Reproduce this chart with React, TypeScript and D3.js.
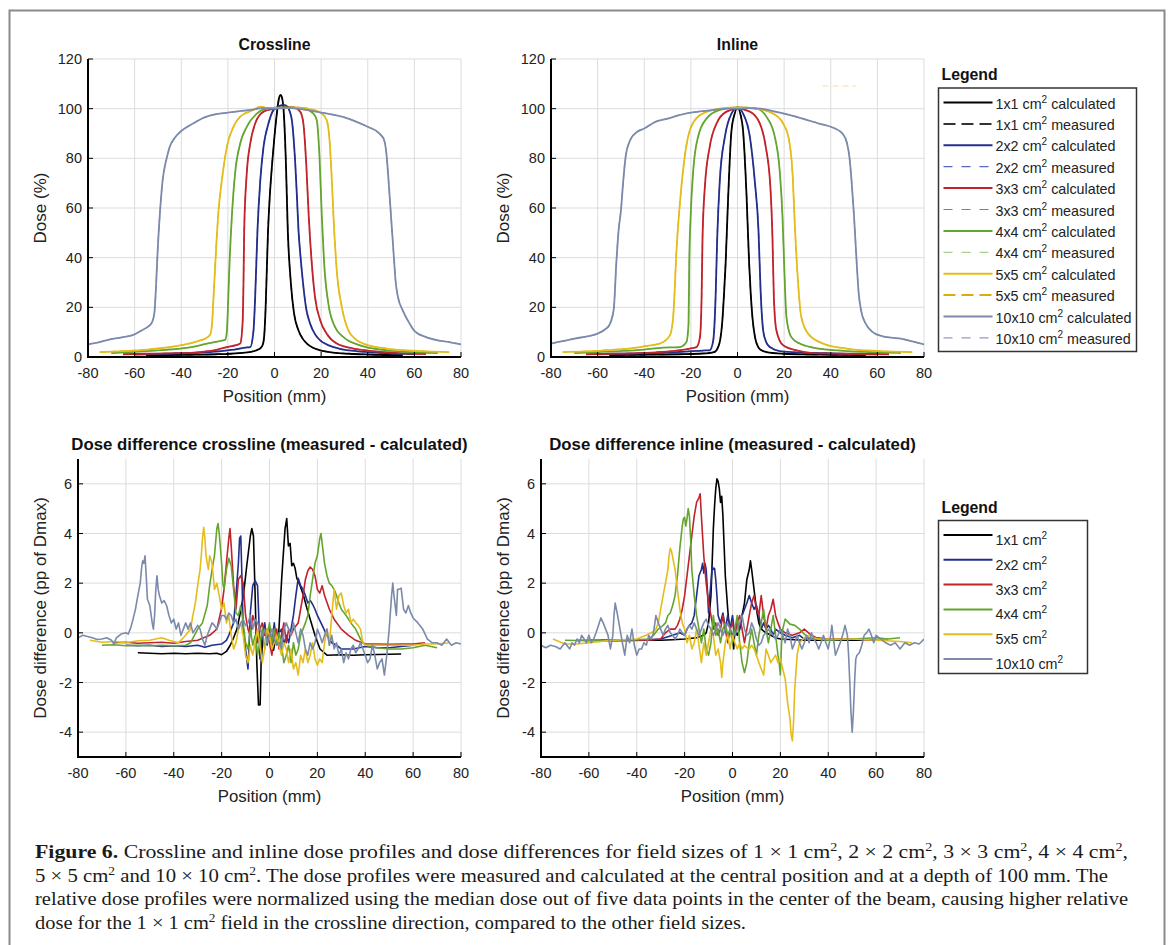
import React from 'react';
import * as d3 from 'd3';

type Pt = [number, number];

// ---------- Dose profiles: crossline (calculated) ----------
const cross1: Pt[] = [[-55,0.6],[-45,0.8],[-35,0.9],[-25,1.1],[-15,1.6],[-10,2.1],[-7,3],[-6,3.6],[-5,5],[-4.3,10],[-3.8,20],[-3.3,35],[-2.8,50],[-2,65],[-1,78],[0,89],[1,98],[2,104.5],[2.6,105.5],[3.2,104.5],[3.9,99.5],[4.9,78],[5.7,51],[7,30],[8.4,17.5],[10.3,10.7],[12,7.5],[13.9,5.4],[16.5,3.7],[19.6,2.7],[25,1.8],[32,1.3],[40,1],[48,0.8],[55,0.7]];
const cross2: Pt[] = [[-60,1.0],[-50,1.2],[-40,1.5],[-30,1.9],[-22,2.5],[-16,3.2],[-12.5,3.8],[-10.4,4],[-9,10.7],[-8.3,24],[-7.3,51],[-6.1,71],[-4.7,84.7],[-2.6,94],[-0.4,99.5],[2,101],[4,101.5],[5.5,100.8],[6.5,99],[7.5,95],[8.2,88],[8.9,78],[9.6,65],[10.3,51],[11.2,40],[12.1,31],[13.5,20],[15.3,13.4],[17.5,9],[19.6,6.7],[23,4.8],[28,3.3],[35,2.4],[45,1.7],[60,1.2]];
const cross3: Pt[] = [[-65,1.1],[-55,1.3],[-45,1.5],[-37.6,1.6],[-30,2.2],[-26,2.7],[-20.4,4],[-16.5,4.8],[-14.7,5.4],[-13.7,13.4],[-13.3,30],[-13,51],[-11.9,74],[-10.4,86],[-8.3,94],[-4.7,98.8],[0,100],[4,100.5],[8.1,100.5],[11,98.8],[12.4,94],[13.6,78],[14.7,56.5],[16,37.6],[17.4,24],[19.6,14.8],[22.4,9.4],[26.7,5.4],[33.9,3.4],[40,2.6],[50,1.8],[58,1.4],[65,1.2]];
const cross4: Pt[] = [[-70,1.6],[-62,2],[-54.7,2.4],[-47,2.9],[-40.4,3.4],[-34,4.3],[-29,5.4],[-24,6.3],[-21.1,7],[-20.4,10.7],[-19.9,22],[-19.3,37.6],[-18.3,56.5],[-16.9,74],[-14.7,86],[-11.9,92.7],[-7.6,98],[-3.3,100],[4,100.5],[12.4,100],[16.7,98],[18.1,95.4],[19.3,80.6],[20.3,56.5],[21.3,37.6],[23.1,21.5],[26,12],[29.6,8],[36.7,4.7],[48.1,2.7],[58,2],[70,1.6]];
const cross5: Pt[] = [[-75,2],[-65,2.4],[-54.7,3],[-47,3.8],[-40.4,4.7],[-35,5.8],[-31.9,6.7],[-29.5,7.5],[-27.6,9],[-26.8,13.4],[-26.1,25],[-25.4,37.6],[-24,59],[-22.6,71],[-20.4,84.7],[-17.6,92.7],[-14.7,96.8],[-9,99.5],[-6.1,100.8],[-3,100.3],[3,100.2],[10,100.5],[16.7,99.5],[20.3,98],[22.4,95.4],[23.6,87.4],[24.6,71],[25.6,51],[26.7,35],[28.9,20],[31.7,10.7],[35,7],[38.1,5.4],[48.1,3.4],[62.4,2.4],[75,2]];
const cross10: Pt[] = [[-80,5.1],[-75,6],[-70,7.2],[-65,8],[-60,9.1],[-57,10.7],[-54,12.4],[-52.5,14],[-51.5,18],[-51,25],[-50.5,35],[-50,45],[-49.5,53],[-49,60],[-48.5,66],[-48,71],[-47,77],[-46,81],[-45,84.5],[-43,88],[-40,91],[-35,94],[-30,96.5],[-25,97.8],[-20,98.4],[-15,99],[-10,99.5],[-5,100.2],[0,100],[5,100.3],[10,100],[15,99.3],[20,98.4],[25,97.6],[30,96.5],[35,94.8],[40,92.7],[45,90],[47,87.4],[48,82],[49,70],[50,56.5],[51,43],[52,30],[53,24],[55,18.8],[58,13.4],[60,10.5],[65,8],[70,6.7],[75,6],[80,5.1]];

// ---------- Dose profiles: inline (calculated) ----------
const inl1: Pt[] = [[-55,0.8],[-40,0.9],[-25,1.1],[-15,1.4],[-10,2],[-8.3,4],[-7.4,7],[-6.6,13.4],[-5.8,25],[-5.1,37.6],[-4,64.5],[-2.6,91],[-1.2,98],[0,100.5],[1.2,98],[2.4,91],[3.9,64.5],[5,37.6],[5.7,25],[6.4,16],[7.5,8],[8.9,4],[10.5,2.6],[12.4,2],[20,1.3],[30,1],[40,0.9],[55,0.8]];
const inl2: Pt[] = [[-60,1.1],[-50,1.3],[-40,1.5],[-30,1.8],[-22,2.2],[-15,2.6],[-11.9,2.7],[-10.4,6.7],[-9.4,24],[-8.7,48],[-7.6,71],[-5.4,88.7],[-2.6,98],[0,100.5],[2.4,98],[5.3,88.7],[7.4,71],[9,51],[9.9,27],[11,10.7],[12.3,6],[13.9,4],[18.1,2.4],[25,1.9],[35,1.6],[45,1.3],[60,1.1]];
const inl3: Pt[] = [[-65,1.1],[-55,1.3],[-45,1.5],[-35,1.9],[-27,2.5],[-21,3.3],[-17.6,4],[-16.1,8],[-15.4,24],[-15,48],[-14,68.5],[-11.9,84.7],[-9,94],[-4.7,98.8],[0,100],[5.3,98.8],[9.6,94],[12.1,84.7],[14.1,68.5],[15,48],[15.6,24],[16.7,10.7],[19.6,4.7],[25.3,2.7],[32.4,1.6],[45,1.3],[65,1.1]];
const inl4: Pt[] = [[-70,1.6],[-60,2],[-50,2.4],[-40,3],[-32,3.8],[-24.7,4],[-21.9,6],[-21,13.4],[-20.7,37.6],[-20.1,56.5],[-19,75],[-16.9,88.7],[-13.3,96],[-7.6,99.5],[0,100.5],[8.1,100],[12.4,96.8],[16,88.7],[18.1,75],[19.3,56.5],[20,37.6],[21,16],[23.1,8],[26.7,5.4],[32.4,3.8],[46.7,2.4],[58,2],[70,1.6]];
const inl5: Pt[] = [[-75,2],[-65,2.3],[-55,2.8],[-45,3.6],[-38,4.6],[-33.3,5.4],[-29,8.7],[-27.6,16],[-26.1,44],[-24.7,62],[-23,78],[-20.4,91.4],[-16.1,97.4],[-7.6,100],[0,100.5],[8.1,100],[15.3,98],[19.6,94],[22.1,87.4],[23.6,74],[24.7,51],[26,29.6],[27.4,16],[30.3,9.4],[36.7,5.4],[46.7,3.4],[61,2.4],[75,2]];
const inl10: Pt[] = [[-80,5.4],[-75,6.4],[-70,7.4],[-65,8.2],[-60,9.4],[-57,11],[-55,12.8],[-53.5,17],[-53,20],[-52,37.6],[-51,51],[-50,59],[-49,71],[-48,80.6],[-46,87.4],[-43,90.7],[-40,92],[-35,94.8],[-30,96],[-25,97.4],[-20,98.4],[-15,99],[-10,99.5],[-5,100],[0,100],[5,100.2],[10,100],[15,99],[20,98],[25,96.8],[30,95.4],[35,94],[40,92.7],[45,90],[47,86],[48,80.6],[49,70],[50,56.5],[51,40],[52,25.5],[53,18.8],[55,13.4],[58,10],[62,8.4],[66,7.8],[70,7.4],[75,6.3],[80,5.1]];

// ---------- Dose differences: crossline ----------
const dcross1: Pt[] = [[-55,-0.8],[-50,-0.82],[-45,-0.84],[-40,-0.82],[-35,-0.84],[-30,-0.82],[-25,-0.84],[-22,-0.82],[-20,-0.88],[-18,-0.75],[-16.4,-0.5],[-15,-0.2],[-13.6,0.15],[-12,0.9],[-10.9,1.5],[-9.5,2.7],[-8,3.9],[-7.4,4.2],[-6.7,3.9],[-6,1.5],[-5.3,-1.2],[-4.6,-2.9],[-3.9,-2.9],[-3.5,-1.2],[-2.5,0.15],[-2,0.3],[-1,-0.3],[0,0.2],[0.8,-0.4],[1.7,-0.7],[2.5,-0.2],[3.8,-0.1],[5.1,2.2],[6.5,4.2],[7.2,4.6],[7.9,3.5],[8.6,3.6],[9.3,2.7],[10,2.8],[10.7,2.6],[11.4,2.2],[12.8,1.9],[14.2,1.5],[15.6,1.0],[17,0.55],[19,-0.1],[21.1,-0.65],[24,-0.9],[30,-0.88],[35,-0.9],[40,-0.88],[45,-0.87],[50,-0.86],[55,-0.85]];
const dcross2: Pt[] = [[-60,-0.5],[-55,-0.52],[-50,-0.5],[-45,-0.55],[-40,-0.52],[-35,-0.55],[-30,-0.5],[-27,-0.58],[-24,-0.5],[-20,-0.45],[-18,-0.3],[-17,-0.1],[-15,0.4],[-14,1.5],[-13,2.8],[-12.5,3.8],[-12,3.9],[-11.5,2.2],[-11,0.15],[-10,-0.65],[-9,-1.45],[-8.5,-0.5],[-8,0.8],[-7,1.9],[-6,2.1],[-5,1.9],[-4.5,0.7],[-4,-1.05],[-3,-0.1],[-2,0.4],[-1,-0.5],[0,0.15],[1,-0.4],[2,0.4],[3,-0.5],[4,0],[5,0.15],[6,-0.5],[7,-0.1],[8,-0.4],[9,0.15],[10,0.7],[11,1.5],[12,2.2],[13,1.9],[14,1.75],[15,1.5],[16,1.2],[17,1.3],[18,1.15],[19,0.95],[20,0.7],[22,0.3],[24,-0.1],[26,-0.4],[28,-0.5],[30,-0.65],[35,-0.65],[40,-0.55],[45,-0.6],[50,-0.6],[55,-0.55],[60,-0.5]];
const dcross3: Pt[] = [[-65,-0.4],[-60,-0.38],[-55,-0.42],[-50,-0.4],[-45,-0.38],[-40,-0.42],[-35,-0.35],[-30,-0.3],[-25,-0.1],[-22,0.15],[-20,1.0],[-19,1.75],[-18,2.8],[-17,3.8],[-16.5,4.2],[-16,3.5],[-15,1.9],[-14,0.95],[-13,2.15],[-12,2.3],[-11,2.0],[-10,0.7],[-9,0.15],[-8,-0.1],[-7,0.7],[-6,0.4],[-5,-0.4],[-4,0.15],[-3,0.4],[-2,-0.1],[-1,0.15],[0,-0.4],[1,-0.9],[2,-0.1],[3,0.15],[4,-0.65],[5,-0.1],[6,0.4],[7,-0.4],[8,0.15],[9,-0.1],[10,0.15],[12,0.4],[13,0.95],[14,1.5],[15,2.15],[16,2.5],[17,2.65],[18,2.55],[19,2.3],[20,1.75],[21,1.6],[22,1.9],[23,1.5],[25,0.95],[27,0.55],[30,0.15],[33,-0.1],[36,-0.3],[40,-0.45],[45,-0.45],[50,-0.46],[55,-0.45],[60,-0.45],[65,-0.4]];
const dcross4: Pt[] = [[-70,-0.5],[-65,-0.48],[-60,-0.52],[-55,-0.5],[-50,-0.52],[-45,-0.5],[-40,-0.52],[-35,-0.5],[-33,-0.4],[-30,0.15],[-28,0.4],[-26,1.1],[-25,1.9],[-24,2.55],[-23,3.1],[-22,4.2],[-21.5,4.4],[-21,4.0],[-20,2.8],[-19.5,2.0],[-19,1.75],[-18,2.55],[-17,3.0],[-16,2.7],[-15,1.75],[-14,0.8],[-13,0.7],[-12,1.1],[-11,0.4],[-10,-0.4],[-9,-0.65],[-8,0.15],[-7,-0.5],[-6,-0.1],[-5,-0.9],[-4,-0.4],[-3,0.15],[-2,-0.65],[-1,-0.1],[0,0.4],[1,-0.4],[2,0.15],[3,-0.4],[4,0],[5,-0.5],[6,-1.2],[7,-0.9],[8,-0.5],[9,-1.2],[10,-0.4],[11,-0.9],[12,-0.65],[13,-0.1],[14,0.15],[15,0.4],[16,0.7],[17,1.5],[18,2.15],[19,2.8],[20,3.1],[21,3.8],[21.5,4.0],[22,3.6],[23,2.8],[24,2.3],[25,2.0],[26,1.9],[27,1.75],[28,1.5],[29,1.2],[30,0.95],[32,0.7],[34,0.4],[36,0.15],[38,-0.25],[40,-0.5],[45,-0.6],[50,-0.65],[55,-0.65],[60,-0.6],[65,-0.5],[70,-0.6]];
const dcross5: Pt[] = [[-75,-0.3],[-70,-0.38],[-65,-0.35],[-60,-0.4],[-55,-0.32],[-50,-0.3],[-45,-0.2],[-42,-0.3],[-38,-0.4],[-35,-0.1],[-33,0.15],[-32,0.7],[-31,1.2],[-30,1.9],[-29,2.55],[-28.5,3.1],[-28,3.8],[-27.5,4.25],[-27,3.8],[-26.5,3.1],[-26,2.8],[-25.5,2.55],[-25,3.1],[-24,2.8],[-23.5,2.3],[-23,1.75],[-22,2.0],[-21,1.5],[-20,0.95],[-19,1.2],[-18,0.4],[-17,0.7],[-16,-0.1],[-15,-0.65],[-14,-0.4],[-13,0.15],[-12,0.4],[-11,-0.1],[-10,-0.9],[-9,-1.2],[-8,-0.5],[-7,-0.9],[-6,-0.4],[-5,0.15],[-4,-0.5],[-3,-1.2],[-2,-0.65],[-1,0.15],[0,-0.1],[1,-0.65],[2,-0.4],[3,-0.1],[4,-0.5],[5,-0.9],[6,-0.4],[7,-0.65],[8,-1.2],[9,-0.65],[10,-1.45],[11,-1.2],[12,-1.7],[13,-0.9],[14,-1.2],[15,-0.65],[16,-1.2],[17,-0.9],[18,-0.4],[19,-1.05],[20,-1.3],[21,-1.05],[22,-1.2],[23,-0.4],[24,0.15],[25,-0.5],[26,0.7],[27,1.75],[28,0.95],[29,1.5],[30,1.6],[31,1.1],[32,0.8],[33,0.95],[34,0.4],[35,0.55],[36,0.4],[37,0.3],[38,0.15],[39,-0.4],[40,-0.5],[45,-0.5],[50,-0.5],[55,-0.5],[60,-0.5],[65,-0.45],[70,-0.45],[75,-0.4]];
const dcross10: Pt[] = [[-80,-0.2],[-78,-0.1],[-76,-0.15],[-74,-0.2],[-72,-0.27],[-70,-0.25],[-68,-0.2],[-66,-0.3],[-65,-0.45],[-64,-0.2],[-62,-0.05],[-60,0],[-59,-0.05],[-58,0.2],[-57,0.55],[-56,0.95],[-55,1.5],[-54,2.0],[-53.5,2.55],[-53,2.9],[-52.5,2.8],[-52,3.1],[-51.5,2.3],[-51,1.35],[-50,1.1],[-49,0.4],[-48.5,0.15],[-48,0.7],[-47.5,1.75],[-47,2.3],[-46.5,1.75],[-46,1.5],[-45,1.2],[-44,1.3],[-43,1.1],[-42,0.7],[-41,0.4],[-40,0.55],[-39,0.15],[-38,0.4],[-37,-0.1],[-36,0.15],[-35,0.4],[-34,0.15],[-33,0.4],[-32,0],[-31,0.15],[-30,0.3],[-29,0.15],[-28,-0.25],[-27,-0.5],[-26,-0.1],[-25,0.15],[-24,0.4],[-23,0.3],[-22,0.15],[-21,0.4],[-20,0.7],[-19,0.7],[-18,0.55],[-17,0.8],[-16,0.7],[-15,0.4],[-14,0.55],[-13,0.15],[-12,0.4],[-11,0.55],[-10,0.3],[-9,0.4],[-8,0.7],[-7,0.15],[-6,0.55],[-5,0.4],[-4,0.15],[-3,-0.1],[-2,0.15],[-1,-0.4],[0,-0.1],[1,0.15],[2,-0.25],[3,-0.5],[4,-0.4],[5,-0.65],[6,0.15],[7,0.4],[8,0.15],[9,-0.1],[10,0.4],[11,0],[12,-0.4],[13,0.15],[14,-0.1],[15,-0.65],[16,-0.9],[17,-0.4],[18,-0.65],[19,-0.4],[20,0.15],[21,-0.1],[22,-0.4],[23,-0.1],[24,0.15],[25,-0.5],[26,-0.1],[27,-0.65],[28,-0.4],[29,-0.9],[30,-0.65],[31,-1.2],[32,-0.8],[33,-1.05],[34,-0.65],[35,-0.5],[36,-0.8],[37,-0.65],[38,-0.4],[39,-0.65],[40,-0.9],[41,-1.2],[42,-1.05],[43,-0.5],[44,-0.9],[45,-1.45],[46,-1.2],[47,-1.05],[48,-1.7],[49,-0.9],[50,0.15],[51,1.5],[51.5,2.0],[52,1.5],[53,0.7],[53.5,1.75],[54,1.75],[55,1.8],[56,0.95],[57,0.8],[58,1.1],[59,0.8],[60,0.6],[62,0.4],[64,0.15],[66,-0.25],[68,-0.4],[70,-0.4],[72,-0.5],[74,-0.25],[76,-0.5],[78,-0.4],[80,-0.45]];

// ---------- Dose differences: inline ----------
const dinl1: Pt[] = [[-55,-0.3],[-45,-0.31],[-35,-0.3],[-30,-0.3],[-25,-0.28],[-20,-0.25],[-15,-0.2],[-12,-0.1],[-11,0],[-10,0.4],[-9,1.5],[-8.5,2.8],[-8,4.2],[-7.5,5.1],[-7,5.8],[-6.5,6.2],[-6,6.1],[-5.5,5.8],[-5,5.25],[-4.5,5.5],[-4,4.7],[-3.5,3.5],[-3,2.3],[-2,0.95],[-1.5,0.4],[-1,0.15],[0,-0.1],[0.5,-0.65],[1,0.15],[2,-0.1],[3,0.15],[4,0.7],[5,1.2],[6,2.15],[7,2.55],[7.5,2.9],[8,2.55],[9,1.75],[10,0.95],[11,0.4],[12,0.15],[14,0],[16,-0.1],[18,-0.2],[20,-0.25],[30,-0.3],[40,-0.3],[55,-0.3]];
const dinl2: Pt[] = [[-60,-0.3],[-50,-0.32],[-40,-0.3],[-30,-0.25],[-25,-0.1],[-22,0],[-20,-0.1],[-19,0.15],[-18,0.3],[-17,0.4],[-16,0.7],[-15,1.5],[-14,2.3],[-13,2.55],[-12.5,2.8],[-12,2.4],[-11.5,2.8],[-11,2.55],[-10.5,1.75],[-10,0.8],[-9.5,1.5],[-9,2.0],[-8.5,2.7],[-8,2.55],[-7.5,2.6],[-7,2.15],[-6.5,1.5],[-6,0.7],[-5,0.4],[-4,0.8],[-3,0.15],[-2,0.7],[-1,0.15],[0,0.7],[1,-0.1],[2,0.4],[3,0.15],[4,0.7],[5,0.95],[6,1.2],[7,1.5],[8,1.2],[9,0.95],[10,1.1],[11,0.7],[12,0.15],[13,0.4],[14,0.15],[15,0.3],[16,0.15],[17,-0.1],[18,0.15],[20,0],[22,-0.1],[25,-0.2],[28,-0.1],[30,-0.25],[35,-0.2],[40,-0.25],[50,-0.25],[60,-0.3]];
const dinl3: Pt[] = [[-65,-0.3],[-55,-0.3],[-45,-0.28],[-35,-0.3],[-30,-0.25],[-28,0],[-26,0.15],[-24,0.15],[-23,0.3],[-22,0.55],[-21,0.95],[-20,1.5],[-19,2.3],[-18,3.1],[-17,3.9],[-16,4.7],[-15,5.25],[-14,5.45],[-13.5,5.6],[-13,4.7],[-12,3.1],[-11,2.0],[-10,1.2],[-9,0.7],[-8,0.15],[-7,0.4],[-6,-0.1],[-5,0.15],[-4,0.7],[-3,0.15],[-2,-0.4],[-1,0.15],[0,0.4],[1,-0.1],[2,0.4],[3,0.7],[4,0.15],[5,-0.4],[6,0.15],[7,0.7],[8,1.2],[9,1.5],[10,0.95],[11,0.7],[12,1.5],[13,0.7],[14,0.15],[15,0.7],[16,0.95],[17,1.35],[18,0.7],[19,0.4],[20,0.15],[22,0],[25,-0.1],[28,0],[30,0.15],[33,-0.1],[36,-0.25],[40,-0.25],[50,-0.25],[60,-0.3],[65,-0.3]];
const dinl4: Pt[] = [[-70,-0.3],[-60,-0.32],[-50,-0.3],[-40,-0.28],[-35,-0.25],[-33,-0.1],[-31,0.15],[-29,0.3],[-28,0.4],[-27,0.7],[-26,0.8],[-25,1.1],[-24,1.5],[-23,2.3],[-22,3.4],[-21,4.3],[-20.5,4.6],[-20,4.65],[-19.5,4.3],[-19,4.6],[-18.5,5.0],[-18,4.7],[-17.5,3.8],[-17,2.55],[-16,1.5],[-15,0.7],[-14,0.15],[-13,-0.4],[-12,0.15],[-11,-0.65],[-10,-0.9],[-9,-0.4],[-8,0.7],[-7,-0.1],[-6,0.15],[-5,-0.4],[-4,0.15],[-3,0.4],[-2,-0.1],[-1,0.15],[0,-0.4],[1,0.15],[2,0.7],[3,-0.4],[4,-1.2],[5,-1.6],[6,-1.2],[7,-0.4],[8,0.15],[9,-0.4],[10,-0.9],[11,-0.1],[12,0.4],[13,0.95],[14,0.15],[15,-0.4],[16,0.15],[17,0.7],[18,-0.1],[19,-0.9],[19.5,-1.2],[20,-1.7],[20.5,-0.4],[21,0.15],[22,0.55],[24,0.35],[26,0.3],[28,0.15],[30,-0.05],[32,-0.2],[35,-0.25],[40,-0.3],[50,-0.25],[60,-0.2],[65,-0.25],[70,-0.2]];
const dinl5: Pt[] = [[-75,-0.25],[-70,-0.45],[-65,-0.45],[-60,-0.4],[-50,-0.3],[-40,-0.25],[-36,-0.1],[-34,0],[-32,0.15],[-31,0.4],[-30,0.95],[-29,1.5],[-28,2.0],[-27,2.55],[-26.5,3.1],[-26,3.4],[-25.5,3.3],[-25,3.05],[-24.5,2.8],[-24,2.55],[-23,1.75],[-22,0.95],[-21,0.4],[-20,0.15],[-19,-0.4],[-18,-0.1],[-17,-0.65],[-16,-0.4],[-15,0.15],[-14,-0.5],[-13,-1.2],[-12,-0.4],[-11,-0.9],[-10,-0.4],[-9,0.15],[-8,-0.1],[-7,-0.9],[-6,-0.65],[-5,-1.2],[-4.5,-1.8],[-4,-1.2],[-3,-0.4],[-2,-0.1],[-1,-0.65],[0,-0.1],[1,-0.4],[2,-0.65],[3,-0.4],[4,-0.65],[5,-0.5],[6,-0.6],[7,-0.65],[8,-0.5],[9,-0.65],[10,-0.9],[11,-1.2],[12,-1.45],[13,-1.7],[13.5,-1.2],[14,-0.65],[15,-0.9],[16,-1.2],[17,-1.05],[18,-0.9],[19,-1.2],[20,-1.05],[21,-1.45],[22,-1.85],[23,-2.8],[24,-3.45],[24.5,-4.1],[25,-4.35],[25.5,-3.6],[26,-2.25],[27,-0.9],[28,-0.4],[30,-0.2],[32,-0.1],[34,-0.2],[36,-0.25],[40,-0.25],[50,-0.25],[60,-0.3],[70,-0.35],[75,-0.4]];
const dinl10: Pt[] = [[-80,-0.5],[-78,-0.6],[-76,-0.5],[-74,-0.55],[-72,-0.65],[-70,-0.4],[-68,-0.65],[-67,-0.4],[-66,-0.5],[-65,-0.25],[-64,-0.4],[-63,-0.1],[-62,-0.25],[-61,-0.4],[-60,-0.1],[-59,-0.4],[-58,-0.25],[-57,0],[-56,0.3],[-55,0.6],[-54,0.4],[-53,0.15],[-52,-0.1],[-51,-0.65],[-50,-0.1],[-49.5,0.7],[-49,1.2],[-48,0.7],[-47,0.15],[-46,-0.4],[-45,-0.9],[-44,-0.1],[-43,-0.4],[-42,0.15],[-41,-0.5],[-40,-0.9],[-39,-0.65],[-38,-0.65],[-37,-0.4],[-36,-0.5],[-35,-0.1],[-34,-0.25],[-33,0],[-32,0.7],[-31,0.4],[-30,0.15],[-29,-0.1],[-28,0.15],[-27,0.3],[-26,0],[-25,-0.1],[-24,-0.25],[-23,-0.1],[-22,0.15],[-21,0],[-20,-0.1],[-19,0.15],[-18,0.3],[-17,0.15],[-16,0.4],[-15,0.15],[-14,-0.1],[-13,0.15],[-12,0.4],[-11,0.55],[-10,0.3],[-9,0.15],[-8,-0.1],[-7,0.15],[-6,0.4],[-5,0.15],[-4,-0.1],[-3,0.15],[-2,0.4],[-1,0.15],[0,0],[1,-0.1],[2,0.15],[3,0.4],[4,0.7],[5,0.15],[6,-0.1],[7,0],[8,0.4],[9,0.15],[10,-0.25],[11,-0.5],[12,-0.4],[13,-0.1],[14,0],[15,0.15],[16,0],[17,-0.1],[18,-0.25],[19,-0.1],[20,0.15],[21,-0.1],[22,-0.4],[23,0.15],[24,-0.1],[25,-0.65],[26,-0.4],[27,-0.1],[28,-0.4],[29,-0.65],[30,-0.4],[31,-0.1],[32,-0.4],[33,0],[34,-0.25],[35,-0.4],[36,-0.65],[37,-0.4],[38,-0.1],[39,-0.4],[40,-0.65],[41,-0.1],[41.5,0.3],[42,-0.1],[43,-0.9],[44,-0.65],[45,-0.4],[46,-0.1],[47,0.3],[48,-0.1],[48.5,-0.9],[49,-2.0],[49.5,-3.2],[50,-4.0],[50.5,-3.2],[51,-2.0],[51.5,-1.05],[52,-0.9],[53,-0.8],[54,-0.5],[55,-0.1],[56,0],[57,0.15],[58,-0.1],[59,-0.4],[60,-0.1],[62,-0.25],[64,-0.4],[66,-0.5],[68,-0.4],[70,-0.65],[72,-0.4],[74,-0.5],[76,-0.4],[78,-0.45],[80,-0.25]];

// ---------- Labels, ticks, colours ----------
const fieldLabels = ['1x1', '2x2', '3x3', '4x4', '5x5', '10x10'];
const calcColors = ['#000000', '#232e8c', '#c1232b', '#64a52f', '#e4bd1c', '#7b8aab'];
const measColors = ['#333333', '#5866b6', '#e0565b', '#a9d08e', '#d5ae14', '#8d9ccc'];
const xTicks = [-80, -60, -40, -20, 0, 20, 40, 60, 80];
const doseTicks = [0, 20, 40, 60, 80, 100, 120];
const diffTicks = [-4, -2, 0, 2, 4, 6];

const crossProfiles = [cross1, cross2, cross3, cross4, cross5, cross10];
const inlineProfiles = [inl1, inl2, inl3, inl4, inl5, inl10];
const crossDiffs = [dcross1, dcross2, dcross3, dcross4, dcross5, dcross10];
const inlineDiffs = [dinl1, dinl2, dinl3, dinl4, dinl5, dinl10];

const SANS = "'Liberation Sans', Arial, Helvetica, sans-serif";
const SERIF = "'Liberation Serif', 'Times New Roman', Times, serif";

type Box = { x0: number; x1: number; y0: number; y1: number };

interface Series { data: Pt[]; color: string; width: number; dash?: string }

function Panel(props: {
  id: string; box: Box; yDomain: [number, number]; yTicks: number[];
  title: string; titleSize: number; yLabel: string; labelX: number; series: Series[]; smooth: boolean;
}) {
  const { id, box, yDomain, yTicks, title, titleSize, yLabel, labelX, series, smooth } = props;
  const xs = d3.scaleLinear().domain([-80, 80]).range([box.x0, box.x1]);
  const ys = d3.scaleLinear().domain(yDomain).range([box.y1, box.y0]);
  const gen = d3.line<Pt>().x(d => xs(d[0])).y(d => ys(d[1]))
    .curve(smooth ? d3.curveMonotoneX : d3.curveLinear);
  const cx = (box.x0 + box.x1) / 2;
  const cy = (box.y0 + box.y1) / 2;
  return (
    <g>
      <defs>
        <clipPath id={id}>
          <rect x={box.x0} y={box.y0 - 2} width={box.x1 - box.x0} height={box.y1 - box.y0 + 2} />
        </clipPath>
      </defs>
      {xTicks.map(t => (
        <line key={'gx' + t} x1={xs(t)} x2={xs(t)} y1={box.y0} y2={box.y1} stroke="#dcdcdc" strokeWidth={1} />
      ))}
      {yTicks.map(t => (
        <line key={'gy' + t} x1={box.x0} x2={box.x1} y1={ys(t)} y2={ys(t)} stroke="#dcdcdc" strokeWidth={1} />
      ))}
      <g clipPath={`url(#${id})`}>
        {series.map((s, i) => (
          <path key={i} d={gen(s.data) || ''} fill="none" stroke={s.color} strokeWidth={s.width}
            strokeDasharray={s.dash} strokeLinejoin="round" />
        ))}
      </g>
      {xTicks.map(t => (
        <line key={'tx' + t} x1={xs(t)} x2={xs(t)} y1={box.y1} y2={box.y1 - 5} stroke="#000" strokeWidth={1} />
      ))}
      {yTicks.map(t => (
        <line key={'ty' + t} x1={box.x0} x2={box.x0 + 5} y1={ys(t)} y2={ys(t)} stroke="#000" strokeWidth={1} />
      ))}
      <line x1={box.x0} x2={box.x0} y1={box.y0} y2={box.y1 + 1} stroke="#000" strokeWidth={2} />
      <line x1={box.x0 - 1} x2={box.x1} y1={box.y1} y2={box.y1} stroke="#000" strokeWidth={2} />
      {xTicks.map(t => (
        <text key={'lx' + t} x={xs(t)} y={box.y1 + 21} textAnchor="middle" fontSize={14.5} fontFamily={SANS} fill="#222">{t}</text>
      ))}
      {yTicks.map(t => (
        <text key={'ly' + t} x={box.x0 - 6} y={ys(t) + 5} textAnchor="end" fontSize={14.5} fontFamily={SANS} fill="#222">{t}</text>
      ))}
      <text x={cx} y={box.y0 - 9} textAnchor="middle" fontSize={titleSize} fontWeight="bold" fontFamily={SANS} fill="#111">{title}</text>
      <text x={cx} y={box.y1 + 45} textAnchor="middle" fontSize={16.8} fontFamily={SANS} fill="#222">Position (mm)</text>
      <text transform={`translate(${labelX},${cy}) rotate(-90)`} textAnchor="middle" fontSize={17} fontFamily={SANS} fill="#222">{yLabel}</text>
    </g>
  );
}

function Legend(props: { x: number; y: number; w: number; h: number; rows: { color: string; width: number; dash?: string; label: string; suffix: string }[]; first: number; step: number; textDy: number }) {
  const { x, y, w, h, rows, first, step, textDy } = props;
  return (
    <g>
      <text x={x + 3} y={y - 8} fontSize={15.8} fontWeight="bold" fontFamily={SANS} fill="#111">Legend</text>
      <rect x={x} y={y} width={w} height={h} fill="#fff" stroke="#333" strokeWidth={1.5} />
      {rows.map((r, i) => {
        const ly = first + i * step;
        return (
          <g key={i}>
            <line x1={x + 5} x2={x + 54} y1={ly} y2={ly} stroke={r.color} strokeWidth={r.width} strokeDasharray={r.dash} />
            <text x={x + 57} y={ly + textDy} fontSize={14.3} fontFamily={SANS} fill="#222">
              {r.label} cm<tspan dy={-6} fontSize={10}>2</tspan><tspan dy={6}>{r.suffix}</tspan>
            </text>
          </g>
        );
      })}
    </g>
  );
}

type Seg = { t: string; b?: boolean; sup?: boolean };
const captionLines: { segs: Seg[]; len: number }[] = [
  { len: 1093, segs: [{ t: 'Figure 6.', b: true }, { t: ' Crossline and inline dose profiles and dose differences for field sizes of 1 \u00d7 1 cm' }, { t: '2', sup: true }, { t: ', 2 \u00d7 2 cm' }, { t: '2', sup: true }, { t: ', 3 \u00d7 3 cm' }, { t: '2', sup: true }, { t: ', 4 \u00d7 4 cm' }, { t: '2', sup: true }, { t: ',' }] },
  { len: 1073, segs: [{ t: '5 \u00d7 5 cm' }, { t: '2', sup: true }, { t: ' and 10 \u00d7 10 cm' }, { t: '2', sup: true }, { t: '. The dose profiles were measured and calculated at the central position and at a depth of 100 mm. The' }] },
  { len: 1093, segs: [{ t: 'relative dose profiles were normalized using the median dose out of five data points in the center of the beam, causing higher relative' }] },
  { len: 711, segs: [{ t: 'dose for the 1 \u00d7 1 cm' }, { t: '2', sup: true }, { t: ' field in the crossline direction, compared to the other field sizes.' }] },
];

function Caption() {
  const baseY = 858;
  return (
    <g>
      {captionLines.map((ln, i) => {
        let shift = 0;
        return (
          <text key={i} x={35} y={baseY + i * 23.5} fontSize={18.5} fontFamily={SERIF} fill="#1a1a1a"
            textLength={ln.len} lengthAdjust="spacingAndGlyphs">
            {ln.segs.map((s, j) => {
              let dy = 0;
              if (s.sup && shift === 0) { dy = -7; shift = -7; }
              else if (!s.sup && shift !== 0) { dy = 7; shift = 0; }
              return (
                <tspan key={j} dy={dy} fontWeight={s.b ? 'bold' : 'normal'} fontSize={s.sup ? 12 : 18.5}>{s.t}</tspan>
              );
            })}
          </text>
        );
      })}
    </g>
  );
}

export default function App() {
  const profSeries = (profiles: Pt[][]): Series[] => {
    const out: Series[] = [];
    profiles.forEach((p, i) => {
      out.push({ data: p, color: measColors[i], width: 1.2, dash: '6,4' });
    });
    profiles.forEach((p, i) => {
      out.push({ data: p, color: calcColors[i], width: 1.8 });
    });
    return out;
  };
  const diffSeries = (diffs: Pt[][]): Series[] => diffs.map((d, i) => ({ data: d, color: calcColors[i], width: 1.6 }));

  const legend1Rows: { color: string; width: number; dash?: string; label: string; suffix: string }[] = [];
  fieldLabels.forEach((f, i) => {
    legend1Rows.push({ color: calcColors[i], width: 2, label: f, suffix: ' calculated' });
    legend1Rows.push({ color: measColors[i], width: i === 0 || i === 4 ? 2 : 1.2, dash: i === 0 || i === 4 ? '12,6' : '9,9', label: f, suffix: ' measured' });
  });
  const legend2Rows = fieldLabels.map((f, i) => ({ color: calcColors[i], width: 2, label: f, suffix: '' }));

  const xsInline = d3.scaleLinear().domain([-80, 80]).range([551, 924]);

  return (
    <svg width={1171} height={945} style={{ position: 'absolute', left: 0, top: 0, background: '#fff' }}>
      <rect x={0} y={0} width={1171} height={945} fill="#fff" />
      <rect x={9.5} y={10.5} width={1155} height={1000} fill="none" stroke="#8a8a8a" strokeWidth={2} />
      <Panel id="c1" box={{ x0: 88, x1: 461, y0: 59, y1: 357 }} yDomain={[0, 120]} yTicks={doseTicks}
        title="Crossline" titleSize={15.8} yLabel="Dose (%)" labelX={46} series={profSeries(crossProfiles)} smooth={true} />
      <Panel id="c2" box={{ x0: 551, x1: 924, y0: 59, y1: 357 }} yDomain={[0, 120]} yTicks={doseTicks}
        title="Inline" titleSize={15.8} yLabel="Dose (%)" labelX={509} series={profSeries(inlineProfiles)} smooth={true} />
      <line x1={xsInline(36.5)} x2={xsInline(51)} y1={86} y2={86} stroke="#f3dfa0" strokeWidth={1} strokeDasharray="6,4" />
      <Panel id="c3" box={{ x0: 78, x1: 461, y0: 459, y1: 757 }} yDomain={[-5, 7]} yTicks={diffTicks}
        title="Dose difference crossline (measured - calculated)" titleSize={16.8} yLabel="Dose difference (pp of Dmax)" labelX={46}
        series={diffSeries(crossDiffs)} smooth={false} />
      <Panel id="c4" box={{ x0: 541, x1: 924, y0: 459, y1: 757 }} yDomain={[-5, 7]} yTicks={diffTicks}
        title="Dose difference inline (measured - calculated)" titleSize={16.8} yLabel="Dose difference (pp of Dmax)" labelX={509}
        series={diffSeries(inlineDiffs)} smooth={false} />
      <Legend x={938.5} y={88} w={198} h={263.5} rows={legend1Rows} first={102.5} step={21.4} textDy={6} />
      <Legend x={938.5} y={520.5} w={149} h={153} rows={legend2Rows} first={535} step={24.8} textDy={10} />
      <Caption />
    </svg>
  );
}
